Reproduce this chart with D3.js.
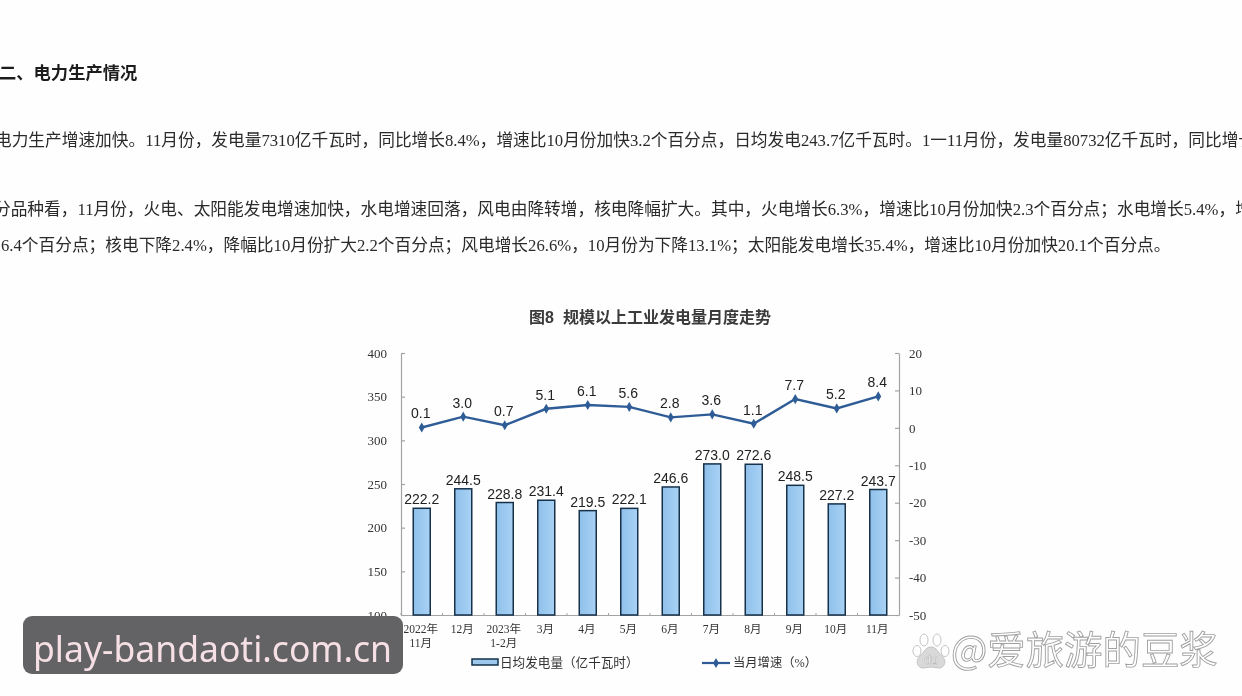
<!DOCTYPE html>
<html><head><meta charset="utf-8">
<script src="https://cdn.jsdelivr.net/npm/d3@7/dist/d3.min.js"></script>
<style>
html,body{margin:0;padding:0;background:#fff;overflow:hidden}
svg{display:block}
text{font-family:"Liberation Serif","Noto Sans CJK SC",serif}
</style></head><body>
<svg id="c" width="1242" height="696"></svg>
<script>
const categories=["2022年|11月","12月","2023年|1-2月","3月","4月","5月","6月","7月","8月","9月","10月","11月"];
const dailyOutput=[222.2,244.5,228.8,231.4,219.5,222.1,246.6,273.0,272.6,248.5,227.2,243.7];
const growth=[0.1,3.0,0.7,5.1,6.1,5.6,2.8,3.6,1.1,7.7,5.2,8.4];
const leftTicks=[100,150,200,250,300,350,400];
const rightTicks=[-50,-40,-30,-20,-10,0,10,20];
const heading="二、电力生产情况";
const para=[
 {x:-5,y:140,t:"电力生产增速加快。11月份，发电量7310亿千瓦时，同比增长8.4%，增速比10月份加快3.2个百分点，日均发电243.7亿千瓦时。1一11月份，发电量80732亿千瓦时，同比增长"},
 {x:-6,y:209,t:"分品种看，11月份，火电、太阳能发电增速加快，水电增速回落，风电由降转增，核电降幅扩大。其中，火电增长6.3%，增速比10月份加快2.3个百分点；水电增长5.4%，增"},
 {x:1,y:245,t:"6.4个百分点；核电下降2.4%，降幅比10月份扩大2.2个百分点；风电增长26.6%，10月份为下降13.1%；太阳能发电增长35.4%，增速比10月份加快20.1个百分点。"}
];
const title="图8  规模以上工业发电量月度走势";
const legendNames=["日均发电量（亿千瓦时）","当月增速（%）"];
const stamp="play-bandaoti.com.cn";
const mark="@爱旅游的豆浆";

const svg=d3.select("#c");
const defs=svg.append("defs");
const gr=defs.append("linearGradient").attr("id","bf").attr("x1",0).attr("x2",1).attr("y1",0).attr("y2",0);
gr.append("stop").attr("offset","0").attr("stop-color","#8fc0ea");
gr.append("stop").attr("offset","1").attr("stop-color","#a9d2f5");
defs.append("filter").attr("id","soft").append("feGaussianBlur").attr("stdDeviation",0.45);
const root=svg.append("g").attr("filter","url(#soft)");
root.append("rect").attr("width",1242).attr("height",696).attr("fill","#fefefe");

root.append("text").attr("x",-1).attr("y",79).attr("font-size",17.3).attr("font-weight",700).attr("fill","#1c1c1c").text(heading);
root.selectAll("text.p").data(para).join("text").attr("class","p")
 .attr("x",d=>d.x).attr("y",d=>d.y+6).attr("font-size",16.7).attr("fill","#2a2a2a").text(d=>d.t);

root.append("text").attr("x",650).attr("y",322.5).attr("text-anchor","middle").attr("font-size",16)
 .attr("font-weight",700).attr("fill","#3a3a3a").style("white-space","pre")
 .style("font-family",'"Liberation Sans","Noto Sans CJK SC",sans-serif').text(title);

const L=401,R=899,T=353,B=615;
const x=d3.scaleBand().domain(categories).range([L,R]);
const yL=d3.scaleLinear().domain([100,400]).range([B,T]);
const yR=d3.scaleLinear().domain([-50,20]).range([B,T]);
const cx=d=>x(d)+x.bandwidth()/2;
const axisCol="#a3a3a3";

const ax=root.append("g").attr("transform",`translate(${L},0)`).call(d3.axisLeft(yL).tickValues(leftTicks).tickSize(-4).tickSizeOuter(0).tickPadding(14));
const ay=root.append("g").attr("transform",`translate(${R},0)`).call(d3.axisRight(yR).tickValues(rightTicks).tickFormat(d=>String(d)).tickSize(-4).tickSizeOuter(0).tickPadding(10));
const ab=root.append("g").attr("transform",`translate(0,${B})`).call(d3.axisBottom(x).tickSize(0).tickPadding(9));
ab.selectAll(".tick").each(function(d){
  const t=d3.select(this).select("text").text(null).attr("y",0).attr("dy",null);
  d.split("|").forEach((s,i)=>t.append("tspan").attr("x",-1).attr("y",18+i*14).text(s));
});
[ax,ay,ab].forEach(g=>{
  g.selectAll("path,line").attr("stroke",axisCol).attr("stroke-width",1.2);
  g.selectAll("text").attr("font-size",g===ab?11.5:13).attr("fill","#333").attr("font-family",null);
});
root.append("g").selectAll("line").data(categories).join("line")
 .attr("x1",d=>x(d)).attr("x2",d=>x(d)).attr("y1",B).attr("y2",B-2).attr("stroke",axisCol);

const w=17;
root.append("g").selectAll("rect").data(categories).join("rect")
 .attr("x",d=>cx(d)-w/2).attr("width",w)
 .attr("y",(d,i)=>yL(dailyOutput[i])).attr("height",(d,i)=>yL(100)-yL(dailyOutput[i]))
 .attr("fill","url(#bf)").attr("stroke","#15304a").attr("stroke-width",1.5);
const sans='"Liberation Sans",Arial,sans-serif';
root.append("g").selectAll("text").data(categories).join("text")
 .attr("x",cx).attr("y",(d,i)=>yL(dailyOutput[i])-4).attr("text-anchor","middle")
 .attr("font-size",14).attr("fill","#222").style("font-family",sans)
 .text((d,i)=>dailyOutput[i].toFixed(1));

const line=d3.line().x((d,i)=>cx(categories[i])).y(d=>yR(d));
const lc="#2f5c96";
root.append("path").datum(growth).attr("d",line).attr("fill","none").attr("stroke",lc).attr("stroke-width",2.4);
const dia=d3.symbol().type(d3.symbolDiamond).size(30);
root.append("g").selectAll("path").data(growth).join("path")
 .attr("transform",(d,i)=>`translate(${cx(categories[i])},${yR(d)})`).attr("d",dia).attr("fill",lc);
root.append("g").selectAll("text").data(growth).join("text")
 .attr("x",(d,i)=>cx(categories[i])-1).attr("y",d=>yR(d)-9).attr("text-anchor","middle")
 .attr("font-size",14).attr("fill","#222").style("font-family",sans).text(d=>d.toFixed(1));

/* legend */
root.append("rect").attr("x",472).attr("y",659).attr("width",26).attr("height",6).attr("fill","#9cc8ee").attr("stroke","#15304a").attr("stroke-width",1.5);
root.append("text").attr("x",500).attr("y",667).attr("font-size",12.6).attr("fill","#333").text(legendNames[0]);
root.append("line").attr("x1",702).attr("x2",730).attr("y1",663).attr("y2",663).attr("stroke",lc).attr("stroke-width",2.2);
root.append("path").attr("transform","translate(716,663)").attr("d",dia).attr("fill",lc);
root.append("text").attr("x",733).attr("y",667).attr("font-size",12.3).attr("fill","#333").text(legendNames[1]);

/* baidu mark */
const paw=root.append("g").attr("fill","#fff").attr("stroke","#c4c4c4").attr("stroke-width",1);
[[924,640,4,6],[937,640,4,6],[917,651,4,5.5],[945,651,4,5.5]].forEach(p=>paw.append("ellipse").attr("cx",p[0]).attr("cy",p[1]).attr("rx",p[2]).attr("ry",p[3]));
paw.append("path").attr("d","M931 647c-6 0-7 6-11 9-5 4-3 12 3 12 3 0 5-1 8-1s5 1 8 1c6 0 8-8 3-12-4-3-5-9-11-9z").attr("fill","#d9d9d9").attr("stroke","#c4c4c4");
root.append("text").attr("x",931).attr("y",664).attr("text-anchor","middle").attr("font-size",12).attr("fill","#fff").attr("stroke","#a9a9a9").attr("stroke-width",.4).style("font-family",sans).text("du");
root.append("text").attr("x",951).attr("y",664).attr("font-size",38.4).attr("fill","#fff").attr("stroke","#a0a0a0").attr("stroke-width",.9)
 .style("font-family",'"Noto Sans CJK SC",sans-serif').text(mark);

/* site stamp */
root.append("rect").attr("x",23).attr("y",616).attr("width",380).attr("height",58).attr("rx",9).attr("fill","#636466");
root.append("text").attr("x",33).attr("y",662).attr("font-size",35.5).attr("fill","#f6e0e5")
 .style("font-family",'"Noto Sans",sans-serif').text(stamp);
</script></body></html>
